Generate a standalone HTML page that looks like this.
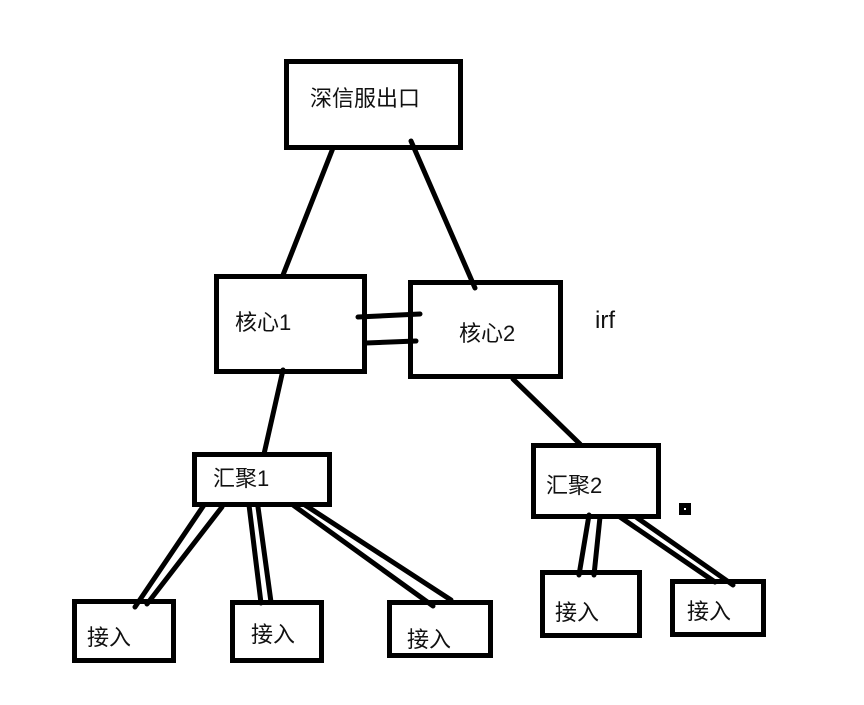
<!DOCTYPE html>
<html><head><meta charset="utf-8"><style>
html,body{margin:0;padding:0;background:#fff;width:864px;height:705px;overflow:hidden}
svg{display:block}
text{font-family:"Liberation Sans","Noto Sans CJK SC",sans-serif;font-size:22px;fill:#111}
</style></head><body>
<svg width="864" height="705" viewBox="0 0 864 705" xmlns="http://www.w3.org/2000/svg">
<g fill="none" stroke="#000" stroke-width="5" stroke-linecap="round">
<path d="M333 148L283 275M411 141L475 288"/>
<path d="M358 317L420 314M366 343L416 341"/>
<path d="M283 370L264 454"/>
<path d="M513 379L580 444"/>
<path d="M204 505L135 607M222 507L147 604"/>
<path d="M249 505L261 603M258 507L271 602"/>
<path d="M293 505L433 606M305 505L451 600"/>
<path d="M589 515L579 575M600 517L594 575"/>
<path d="M620 517L715 582M636 517L733 585"/>
</g>
<g fill="#fff" fill-opacity="0" stroke="#000" stroke-width="5">
<rect x="286.5" y="61.5" width="174" height="86"/>
<rect x="216.5" y="276.5" width="148" height="95"/>
<rect x="410.5" y="282.5" width="150" height="94"/>
<rect x="194.5" y="454.5" width="135" height="50"/>
<rect x="74.5" y="601.5" width="99" height="59"/>
<rect x="232.5" y="602.5" width="89" height="58"/>
<rect x="389.5" y="602.5" width="101" height="53"/>
<rect x="533.5" y="445.5" width="125" height="71"/>
<rect x="542.5" y="572.5" width="97" height="63"/>
<rect x="672.5" y="581.5" width="91" height="53"/>
<rect x="681.5" y="505.5" width="7" height="7" stroke-width="5"/>
</g>
<text x="310" y="106">深信服出口</text>
<text x="235" y="330">核心1</text>
<text x="459" y="341">核心2</text>
<text x="595" y="328" style="font-size:24px">irf</text>
<text x="213" y="486">汇聚1</text>
<text x="546" y="493">汇聚2</text>
<text x="87" y="645">接入</text>
<text x="251" y="642">接入</text>
<text x="407" y="647">接入</text>
<text x="555" y="620">接入</text>
<text x="687" y="619">接入</text>
</svg>
</body></html>
